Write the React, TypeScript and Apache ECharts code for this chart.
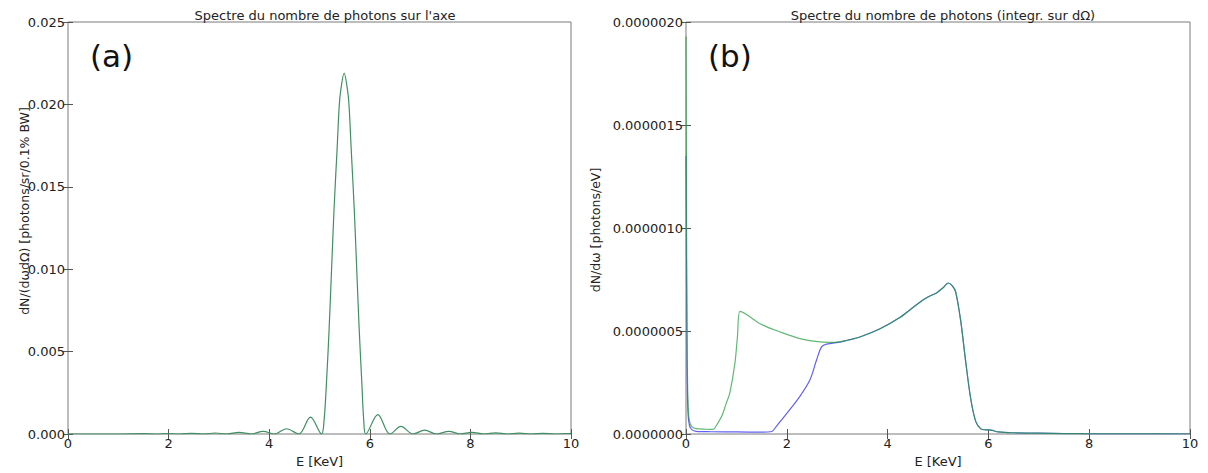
import React, { useEffect, useRef } from 'react';
import * as echarts from 'echarts';

// ---- Panel (a): on-axis photon spectrum ----
const leftE = [
  0, 1.0, 1.52, 1.75, 1.99, 2.22, 2.46, 2.69, 2.93, 3.16, 3.40, 3.64, 3.88, 4.11, 4.34, 4.59, 4.82,
  5.04, 5.09, 5.14, 5.19, 5.24, 5.29, 5.35, 5.39, 5.42, 5.49, 5.56, 5.59, 5.63, 5.69, 5.74, 5.79, 5.84, 5.88,
  5.92, 6.16, 6.40, 6.62, 6.86, 7.09, 7.33, 7.57, 7.80, 8.03, 8.27, 8.50, 8.74, 8.97, 9.21, 9.44, 9.68, 9.91, 10,
];
const leftN = [
  0, 0, 0.00002, 0, 0.00003, 0, 0.00004, 0, 0.00006, 0, 0.0001, 0, 0.00016, 0, 0.00032, 0, 0.00102,
  0, 0.0008, 0.0032, 0.0063, 0.01, 0.0137, 0.0173, 0.0198, 0.0208, 0.0219, 0.0208, 0.0198, 0.0173, 0.0137, 0.01, 0.0063, 0.0032, 0.0008,
  0, 0.00118, 0, 0.00046, 0, 0.00023, 0, 0.00016, 0, 0.0001, 0, 0.00007, 0, 0.00005, 0, 0.00004, 0, 0.00003, 0.00002,
];

// ---- Panel (b): spectrum integrated over solid angle ----
const greenE = [
  0, 0.02, 0.04, 0.07, 0.12, 0.2, 0.4, 0.54, 0.6, 0.71, 0.8, 0.87, 0.97, 1.02, 1.07, 1.2, 1.47, 1.87, 2.26,
  2.66, 2.95, 3.2, 3.45, 3.85, 4.25, 4.51, 4.7, 4.8, 4.97, 5.1, 5.2, 5.28, 5.35, 5.45, 5.55, 5.65, 5.75, 5.85,
  5.95, 6.05, 6.2, 6.5, 7.0, 7.5, 8.0, 9.0, 10.0,
];
const greenN = [
  1.93e-6, 5.0e-7, 1.5e-7, 6.0e-8, 3.5e-8, 2.6e-8, 2.3e-8, 2.2e-8, 4.0e-8, 8.7e-8, 1.5e-7, 2.0e-7, 3.43e-7, 4.7e-7, 5.95e-7, 5.8e-7, 5.35e-7, 4.95e-7, 4.63e-7,
  4.47e-7, 4.45e-7, 4.55e-7, 4.71e-7, 5.11e-7, 5.67e-7, 6.15e-7, 6.5e-7, 6.65e-7, 6.85e-7, 7.1e-7, 7.33e-7, 7.2e-7, 6.9e-7, 5.5e-7, 3.5e-7, 1.7e-7, 6.0e-8, 2.5e-8,
  2.0e-8, 1.9e-8, 1.0e-8, 6e-9, 4e-9, 2e-9, 1e-9, 5e-10, 0,
];
const blueE = [
  0, 0.02, 0.04, 0.07, 0.12, 0.2, 0.5, 1.0, 1.5, 1.7, 1.8, 2.0, 2.26, 2.46, 2.59, 2.69, 2.79, 3.06, 3.2, 3.45,
  3.85, 4.25, 4.51, 4.7, 4.8, 4.97, 5.1, 5.2, 5.28, 5.35, 5.45, 5.55, 5.65, 5.75, 5.85,
  5.95, 6.05, 6.2, 6.5, 7.0, 7.5, 8.0, 9.0, 10.0,
];
const blueN = [
  1.35e-6, 3.5e-7, 1.0e-7, 4.0e-8, 2.0e-8, 1.3e-8, 1.1e-8, 1.0e-8, 9e-9, 1.2e-8, 4.0e-8, 1.0e-7, 1.83e-7, 2.63e-7, 3.59e-7, 4.23e-7, 4.36e-7, 4.46e-7, 4.55e-7, 4.71e-7,
  5.11e-7, 5.67e-7, 6.15e-7, 6.5e-7, 6.65e-7, 6.85e-7, 7.1e-7, 7.33e-7, 7.2e-7, 6.9e-7, 5.5e-7, 3.5e-7, 1.7e-7, 6.0e-8, 2.5e-8,
  2.0e-8, 1.9e-8, 1.0e-8, 6e-9, 4e-9, 2e-9, 1e-9, 5e-10, 0,
];

const xName = 'E [KeV]';
const titleA = "Spectre du nombre de photons sur l'axe";
const titleB = 'Spectre du nombre de photons (integr. sur dΩ)';
const yNameA = 'dN/(dωdΩ) [photons/sr/0.1% BW]';
const yNameB = 'dN/dω [photons/eV]';

const zip = (xs: number[], ys: number[]) => xs.map((x, i) => [x, ys[i]]);

const FONT = 'DejaVu Sans';
const TXT = '#222';
const FRAME = '#7a7a7a';
const FS = 13;

function xAxisDef(gridIndex: number, top: boolean) {
  return {
    type: 'value',
    gridIndex,
    position: top ? 'top' : 'bottom',
    min: 0,
    max: 10,
    interval: 2,
    name: top ? '' : xName,
    nameLocation: 'middle',
    nameGap: 21,
    nameTextStyle: { fontFamily: FONT, fontSize: FS, color: TXT },
    axisLine: { show: false },
    axisTick: { show: true, inside: true, length: 5, lineStyle: { color: '#555' } },
    axisLabel: {
      show: !top,
      margin: 3,
      fontFamily: FONT,
      fontSize: FS,
      color: TXT,
      showMinLabel: true,
      showMaxLabel: true,
    },
    splitLine: { show: false },
  };
}

function yAxisDef(gridIndex: number, right: boolean, max: number, interval: number, digits: number) {
  return {
    type: 'value',
    gridIndex,
    position: right ? 'right' : 'left',
    min: 0,
    max,
    interval,
    axisLine: { show: false },
    axisTick: { show: true, inside: true, length: 5, lineStyle: { color: '#555' } },
    axisLabel: {
      show: !right,
      margin: 3,
      fontFamily: FONT,
      fontSize: FS,
      color: TXT,
      showMinLabel: true,
      showMaxLabel: true,
      formatter: (v: number) => v.toFixed(digits),
    },
    splitLine: { show: false },
  };
}

export default function App() {
  const ref = useRef<HTMLDivElement>(null);
  useEffect(() => {
    if (!ref.current) return;
    const chart = echarts.init(ref.current, null, { renderer: 'svg' });
    chart.setOption({
      animation: false,
      backgroundColor: '#ffffff',
      textStyle: { fontFamily: FONT },
      title: [
        { text: titleA, left: 320, top: 4, textAlign: 'center', textStyle: { fontFamily: FONT, fontSize: FS, fontWeight: 'normal', color: TXT } },
        { text: titleB, left: 938, top: 4, textAlign: 'center', textStyle: { fontFamily: FONT, fontSize: FS, fontWeight: 'normal', color: TXT } },
      ],
      grid: [
        { left: 68, width: 503, top: 22, height: 415, show: true, borderColor: FRAME, borderWidth: 1, backgroundColor: 'transparent' },
        { left: 686, width: 504, top: 22, height: 416, show: true, borderColor: FRAME, borderWidth: 1, backgroundColor: 'transparent' },
      ],
      xAxis: [xAxisDef(0, false), xAxisDef(0, true), xAxisDef(1, false), xAxisDef(1, true)],
      yAxis: [
        yAxisDef(0, false, 0.025, 0.005, 3),
        yAxisDef(0, true, 0.025, 0.005, 3),
        yAxisDef(1, false, 2e-6, 5e-7, 7),
        yAxisDef(1, true, 2e-6, 5e-7, 7),
      ],
      graphic: [
        { type: 'text', left: 90, top: 40, style: { text: '(a)', fontFamily: FONT, fontSize: 31, fill: '#111' } },
        { type: 'text', left: 708, top: 40, style: { text: '(b)', fontFamily: FONT, fontSize: 31, fill: '#111' } },
        {
          type: 'text', x: 24, y: 211, rotation: Math.PI / 2,
          style: { text: yNameA, fontFamily: FONT, fontSize: 12.5, fill: TXT, align: 'center', verticalAlign: 'middle' },
        },
        {
          type: 'text', x: 595, y: 230, rotation: Math.PI / 2,
          style: { text: yNameB, fontFamily: FONT, fontSize: 12.5, fill: TXT, align: 'center', verticalAlign: 'middle' },
        },
      ],
      series: [
        {
          type: 'line',
          xAxisIndex: 0,
          yAxisIndex: 0,
          data: zip(leftE, leftN),
          showSymbol: false,
          smooth: 0.35,
          lineStyle: { color: '#3f8f63', width: 1.2 },
          itemStyle: { color: '#3f8f63' },
        },
        {
          type: 'line',
          xAxisIndex: 2,
          yAxisIndex: 2,
          data: zip(blueE, blueN),
          showSymbol: false,
          smooth: 0.3,
          lineStyle: { color: '#6262f2', width: 1.2 },
          itemStyle: { color: '#6262f2' },
        },
        {
          type: 'line',
          xAxisIndex: 2,
          yAxisIndex: 2,
          data: zip(greenE, greenN),
          showSymbol: false,
          smooth: 0.3,
          lineStyle: { color: '#1f9a3a', width: 1.2, opacity: 0.7 },
          itemStyle: { color: '#1f9a3a' },
        },
      ],
    });
    return () => chart.dispose();
  }, []);
  return (
    <div
      ref={ref}
      style={{ position: 'fixed', left: 0, top: 0, width: 1208, height: 473, background: '#fff' }}
    />
  );
}
